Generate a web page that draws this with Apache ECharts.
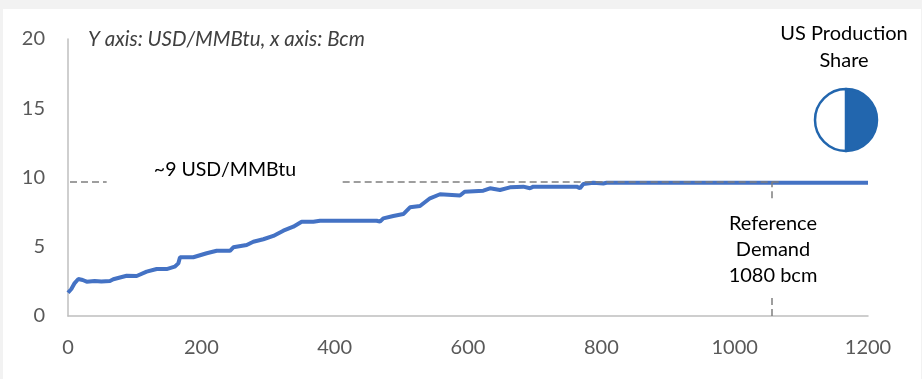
<!DOCTYPE html>
<html>
<head>
<meta charset="utf-8">
<script src="https://cdn.jsdelivr.net/npm/echarts@6/dist/echarts.min.js"></script>
<style>
  html, body { margin: 0; padding: 0; background: #f2f2f2; width: 922px; height: 379px; overflow: hidden; }
  #chart { position: absolute; left: 3px; top: 9px; width: 918px; height: 370px; background: #ffffff; }
</style>
</head>
<body>
<div id="chart"></div>
<script>
// Supply curve: cumulative volume (Bcm) vs cost (USD/MMBtu)
const volumeBcm = [0, 5, 10, 15.5, 22, 28, 40, 50, 63, 68, 78, 88, 103, 118, 133, 148, 160, 165.5, 168, 188,
  208, 223, 243, 248, 268, 278, 293, 308, 323, 338, 350.5, 368, 378, 463, 468, 473, 488, 503, 513, 528,
  543, 558, 588, 595, 623, 633, 648, 663, 683, 693, 698, 763, 768, 773, 788, 803, 808, 1200];
const costUsd = [1.68, 1.95, 2.38, 2.67, 2.6, 2.48, 2.53, 2.49, 2.53, 2.65, 2.78, 2.91, 2.89, 3.2, 3.39, 3.39, 3.56, 3.8, 4.24, 4.24,
  4.53, 4.71, 4.71, 4.96, 5.13, 5.36, 5.54, 5.78, 6.16, 6.45, 6.81, 6.81, 6.88, 6.88, 6.81, 7.05, 7.22, 7.36, 7.85, 7.94,
  8.5, 8.79, 8.7, 8.97, 9.05, 9.22, 9.1, 9.29, 9.34, 9.22, 9.34, 9.34, 9.22, 9.53, 9.62, 9.57, 9.62, 9.62];

const priceLevel = 9.7;          // ~9 USD/MMBtu reference level
const referenceDemand = 1055;    // reference demand line position
const usShare = [50, 50];        // US production share (filled, rest)

const xTicks = { min: 0, max: 1200, interval: 200 };
const yTicks = { min: 0, max: 20, interval: 5 };

const FONT = 'Lato, "Open Sans", sans-serif';
const chart = echarts.init(document.getElementById('chart'), null, { renderer: 'canvas' });

const lineData = volumeBcm.map((v, i) => [v, costUsd[i]]);

chart.setOption({
  animation: false,
  backgroundColor: '#ffffff',
  grid: { left: 65, right: 53, top: 30, bottom: 63 },
  xAxis: {
    type: 'value', min: xTicks.min, max: xTicks.max, interval: xTicks.interval,
    axisLine: { show: true, onZero: false, lineStyle: { color: '#bfbfbf', width: 1.5 } },
    axisTick: { show: false },
    splitLine: { show: false },
    axisLabel: { color: '#595959', fontSize: 20, fontFamily: FONT, margin: 22, formatter: v => String(v) }
  },
  yAxis: {
    type: 'value', min: yTicks.min, max: yTicks.max, interval: yTicks.interval,
    axisLine: { show: true, lineStyle: { color: '#bfbfbf', width: 1.5 } },
    axisTick: { show: false },
    splitLine: { show: false },
    axisLabel: { color: '#595959', fontSize: 20, fontFamily: FONT, margin: 23 }
  },
  series: [
    {
      type: 'line',
      data: lineData,
      showSymbol: false,
      smooth: false,
      lineStyle: { color: '#4472C4', width: 4 },
      z: 3,
      markLine: {
        silent: true,
        symbol: ['none', 'none'],
        label: { show: false },
        lineStyle: { color: '#7f7f7f', type: [7, 4], width: 1.5 },
        data: [
          [{ coord: [3, priceLevel] }, { coord: [58, priceLevel] }],
          [{ coord: [412, priceLevel] }, { coord: [1068, priceLevel] }],
          [{ coord: [referenceDemand, 0] }, { coord: [referenceDemand, 1.4] }],
          [{ coord: [referenceDemand, 8.5] }, { coord: [referenceDemand, priceLevel] }]
        ]
      }
    },
    {
      type: 'pie',
      silent: true,
      center: [843, 111],
      radius: 31,
      startAngle: 90,
      clockwise: true,
      label: { show: false },
      labelLine: { show: false },
      itemStyle: { borderColor: '#2266ae', borderWidth: 2.5 },
      data: [
        { value: usShare[0], itemStyle: { color: '#2266ae' } },
        { value: usShare[1], itemStyle: { color: '#ffffff' } }
      ]
    }
  ],
  graphic: [
    { type: 'text', x: 85, y: 30, style: { text: 'Y axis: USD/MMBtu, x axis: Bcm', font: 'italic 20.5px ' + FONT, fill: '#404040', verticalAlign: 'middle' } },
    { type: 'text', x: 222, y: 161, style: { text: '~9 USD/MMBtu', font: '19.5px ' + FONT, fill: '#000000', align: 'center', verticalAlign: 'middle' } },
    { type: 'text', x: 770, y: 241, style: { text: 'Reference\nDemand\n1080 bcm', font: '20px ' + FONT, lineHeight: 26, fill: '#000000', align: 'center', verticalAlign: 'middle' } },
    { type: 'text', x: 841, y: 38, style: { text: 'US Production\nShare', font: '20px ' + FONT, lineHeight: 27, fill: '#000000', align: 'center', verticalAlign: 'middle' } }
  ]
});
</script>
</body>
</html>
